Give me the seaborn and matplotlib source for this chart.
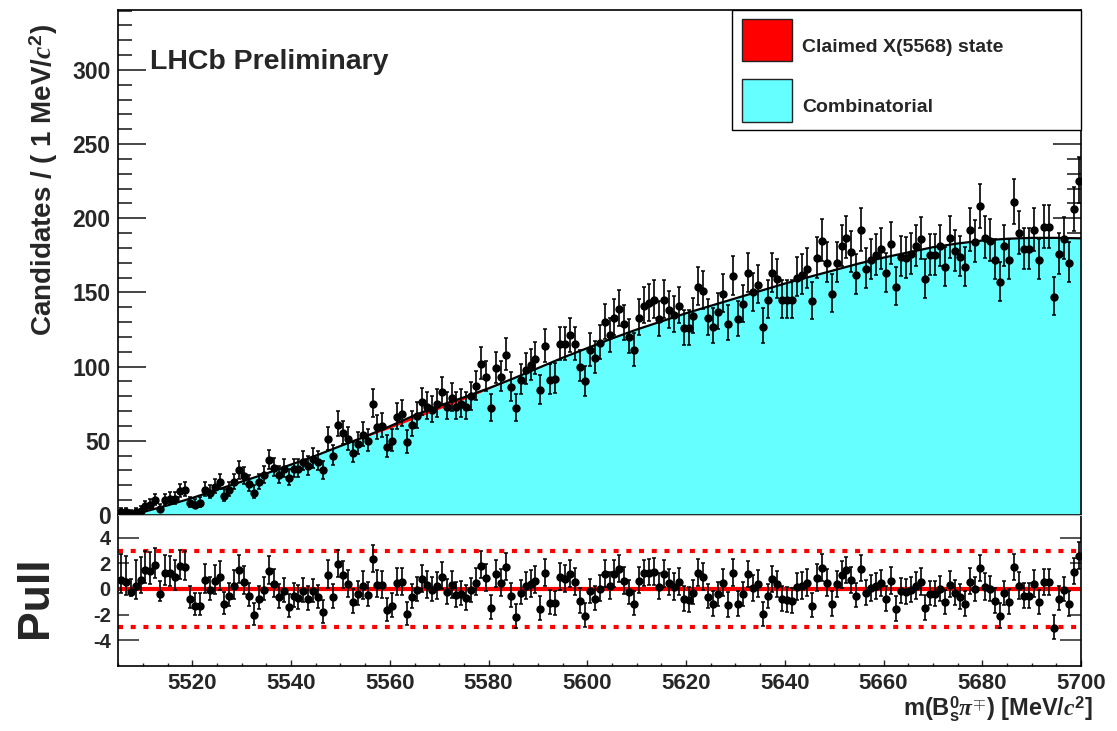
import numpy as np
import matplotlib
matplotlib.use("Agg")
import matplotlib.pyplot as plt
from matplotlib.patches import Rectangle
from matplotlib.ticker import MultipleLocator, FixedLocator, FuncFormatter
import seaborn as sns

# Candidates per 1 MeV bin, first bin starting at 5505 MeV
bin_low = 5505.0
bin_width = 1.0
counts = [
    2, 2, 1, 2, 3, 6, 7, 10, 4, 10, 11, 11, 16, 17, 8, 7, 8, 17, 15, 19,
    22, 13, 17, 22, 30, 26, 21, 15, 22, 27, 37, 32, 27, 31, 25, 31, 31, 36, 33, 38,
    36, 30, 51, 40, 61, 55, 51, 42, 48,
    54, 50, 75, 59, 60, 46, 50, 66, 68, 49, 61, 67, 76, 73, 71, 75, 83, 73, 79, 73,
    75, 73, 80, 87, 102, 93, 72, 99, 93, 108, 86, 72, 91, 98, 101, 105, 84, 114, 91, 92,
    115, 115, 121, 115, 100, 90, 111, 106,
    116, 130, 121, 133, 139, 129, 120, 111, 133, 141, 143, 145, 132, 145, 138, 135, 141, 126, 126, 134,
    154, 151, 133, 127, 137, 149, 129, 161, 132, 142, 163, 150, 155, 127, 145, 163, 159, 145, 145, 145,
    160, 162, 166, 144, 173, 185, 170, 149,
    170, 181, 187, 177, 162, 192, 166, 172, 175, 179, 163, 183, 154, 174, 173, 176, 181, 186, 159, 175,
    175, 181, 167, 187, 178, 174, 167, 192, 184, 208, 187, 185, 172, 157, 181, 172, 211, 190, 179, 179,
    192, 172, 194, 194, 147, 176, 186, 170, 206, 225,
]

# Fit components sampled every 5 MeV
fit_mass = [5505, 5510, 5515, 5520, 5525, 5530, 5535, 5540, 5545, 5550,
            5555, 5560, 5565, 5570, 5575, 5580, 5585, 5590, 5595, 5600,
            5605, 5610, 5615, 5620, 5625, 5630, 5635, 5640, 5645, 5650,
            5655, 5660, 5665, 5670, 5675, 5680, 5685, 5690, 5695, 5700]
fit_comb = [1.0, 2.0, 6.5, 11.5, 17.0, 22.5, 28.0, 34.0, 40.0, 46.5,
            52.5, 58.5, 65.0, 71.5, 78.0, 85.0, 92.0, 99.0, 106.0, 112.5,
            119.0, 125.0, 130.5, 136.0, 141.0, 146.0, 151.0, 156.0, 160.5, 165.0,
            169.5, 173.5, 177.0, 180.5, 183.0, 185.0, 186.2, 186.8, 186.8, 186.5]
fit_signal = [0, 0, 0, 0, 0, 0, 0, 0, 0, 0,
              0.4, 1.3, 2.2, 2.2, 1.3, 0.4, 0, 0, 0, 0,
              0, 0, 0, 0, 0, 0, 0, 0, 0, 0,
              0, 0, 0, 0, 0, 0, 0, 0, 0, 0]

legend_labels = ["Claimed X(5568) state", "Combinatorial"]
CYAN = "#66ffff"
RED = "#ff0000"

counts = np.asarray(counts, dtype=float)
mass = bin_low + (np.arange(len(counts)) + 0.5) * bin_width
fit_mass = np.asarray(fit_mass, dtype=float)
fit_comb = np.asarray(fit_comb, dtype=float)
fit_total = fit_comb + np.asarray(fit_signal, dtype=float)


def poisson_interval(n):
    """Approximate 68% Poisson (Garwood) interval half-widths."""
    n = np.asarray(n, dtype=float)
    safe = np.maximum(n, 1e-9)
    lo = np.where(n > 0, n - n * (1 - 1 / (9 * safe) - 1 / (3 * np.sqrt(safe))) ** 3, 0.0)
    m = n + 1
    hi = m * (1 - 1 / (9 * m) + 1 / (3 * np.sqrt(m))) ** 3 - n
    return lo, hi


err_lo, err_hi = poisson_interval(counts)
curve_at_bins = np.interp(mass, fit_mass, fit_total)
norm = np.where(counts > curve_at_bins, err_lo, err_hi)
pull = (counts - curve_at_bins) / norm
pull_lo = err_lo / norm
pull_hi = err_hi / norm

sns.set_theme(style="ticks")
plt.rcParams["font.family"] = ["Liberation Sans", "DejaVu Sans"]
plt.rcParams["font.weight"] = "bold"
plt.rcParams["mathtext.fontset"] = "custom"
plt.rcParams["mathtext.rm"] = "Liberation Sans:bold"
plt.rcParams["mathtext.bf"] = "Liberation Sans:bold"
plt.rcParams["mathtext.it"] = "Liberation Serif:italic"

W, H = 1117, 731
fig = plt.figure(figsize=(W / 100, H / 100), dpi=100)
left, right = 118.3 / W, 1081.0 / W
ax = fig.add_axes([left, 1 - 515 / H, right - left, (515 - 10) / H])
axp = fig.add_axes([left, 1 - 666 / H, right - left, (666 - 515) / H])

# ---- main panel ----
ax.fill_between(fit_mass, 0, fit_comb, color=CYAN, lw=0, zorder=1)
ax.fill_between(fit_mass, fit_comb, fit_total, color=RED, lw=0, zorder=1)
sns.lineplot(x=fit_mass, y=fit_total, color="black", lw=1.6, ax=ax, zorder=2)
ax.errorbar(mass, counts, yerr=[err_lo, err_hi], fmt="o", ms=5, color="black",
            ecolor="black", elinewidth=1.2, capsize=1.6, capthick=1.1, zorder=3)

ax.set_xlim(5505, 5700)
ax.set_ylim(0, 340.4)
ax.yaxis.set_major_locator(MultipleLocator(50))
ax.yaxis.set_minor_locator(MultipleLocator(10))
ax.tick_params(axis="y", which="both", direction="in", left=True, right=True,
               labelsize=16.5, width=1.2, pad=5.5)
ax.tick_params(axis="y", which="major", length=20)
ax.tick_params(axis="y", which="minor", length=10)
ax.tick_params(axis="x", which="both", bottom=False, top=False, labelbottom=False)
ax.set_xlabel("")
ax.set_ylabel("")
for s in ax.spines.values():
    s.set_linewidth(1.2)
    s.set_color("black")

ax.text((150 - 118.3) / (1081 - 118.3), (515 - 62) / 505, "LHCb Preliminary",
        transform=ax.transAxes, fontsize=20.5, fontweight="bold", va="center", ha="left")


def fig_rect(x0, y0, x1, y1, **kw):
    r = Rectangle((x0 / W, 1 - y1 / H), (x1 - x0) / W, (y1 - y0) / H,
                  transform=fig.transFigure, **kw)
    fig.add_artist(r)


# legend box
fig_rect(732, 10, 1081, 130, facecolor="white", edgecolor="black", lw=1.0, zorder=5)
fig_rect(742, 19, 792, 61, facecolor=RED, edgecolor="#222222", lw=1.0, zorder=6)
fig_rect(742, 79, 792, 122, facecolor=CYAN, edgecolor="#222222", lw=1.0, zorder=6)
fig.text(802 / W, 1 - 47 / H, legend_labels[0], fontsize=14, fontweight="bold",
         va="center", ha="left", zorder=7)
fig.text(802 / W, 1 - 107 / H, legend_labels[1], fontsize=14, fontweight="bold",
         va="center", ha="left", zorder=7)

fig.text(44 / W, 1 - 24 / H, "Candidates / ( 1 MeV/$\\mathit{c}^{2}$)", rotation=90,
         fontsize=20, fontweight="bold", va="top", ha="center")

# ---- pull panel ----
axp.axhline(0, color=RED, lw=3, zorder=1)
for lvl in (-3, 3):
    axp.axhline(lvl, color=RED, lw=3, dashes=(1.2, 1.85), zorder=1)
axp.errorbar(mass, pull, yerr=[pull_lo, pull_hi], fmt="o", ms=5, color="black",
             ecolor="black", elinewidth=1.2, capsize=1.6, capthick=1.1, zorder=3)
axp.set_xlim(5505, 5700)
axp.set_ylim(-6.02, 5.78)
axp.xaxis.set_major_locator(MultipleLocator(20))
axp.xaxis.set_minor_locator(MultipleLocator(5))
axp.tick_params(axis="x", which="both", direction="in", bottom=True, top=False,
                labelsize=16, width=1.0, pad=5)
axp.tick_params(axis="x", which="major", length=4)
axp.tick_params(axis="x", which="minor", length=2.2)
axp.yaxis.set_major_locator(FixedLocator([-4, 4]))
axp.yaxis.set_minor_locator(FixedLocator([-2, 0, 2]))
int_fmt = FuncFormatter(lambda v, p: "%d" % round(v))
axp.yaxis.set_major_formatter(int_fmt)
axp.yaxis.set_minor_formatter(int_fmt)
axp.tick_params(axis="y", which="both", direction="in", left=True, right=True,
                labelsize=14.5, width=1.1, pad=5.5)
axp.tick_params(axis="y", which="major", length=15)
axp.tick_params(axis="y", which="minor", length=8)
for s in axp.spines.values():
    s.set_linewidth(1.2)
    s.set_color("black")
axp.spines["top"].set_color("#bbbbbb")
axp.spines["top"].set_linewidth(0.8)
axp.set_xlabel("")
axp.set_ylabel("")

fig.text(36 / W, 1 - 597 / H, "Pull", rotation=90, fontsize=32, fontweight="bold",
         va="center", ha="center")
fig.text(1093 / W, 1 - 709 / H,
         "m(B$_{\\rm s}^{\\rm 0}$$\\mathit{\\pi}^{\\mp}$) [MeV/$\\mathit{c}^{2}$]",
         fontsize=17, fontweight="bold", va="center", ha="right")

fig.savefig("out.png", dpi=100)
